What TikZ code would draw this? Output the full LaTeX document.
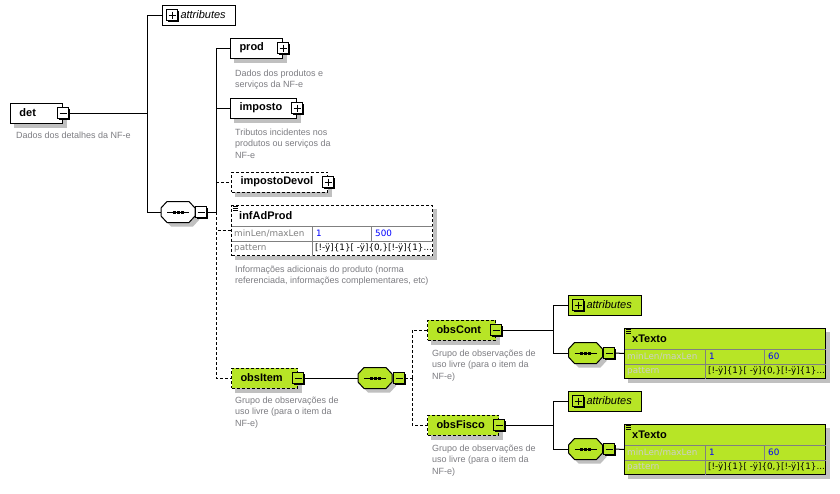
\documentclass[tikz,border=0pt]{standalone}
\usepackage{fontspec}
\setmainfont{Liberation Sans}
\newfontfamily\tblfont{DejaVu Sans}
\usetikzlibrary{calc}
\pgfdeclarelayer{bg}
\pgfsetlayers{bg,main}
\definecolor{xgreen}{RGB}{183,229,38}
\definecolor{shad}{RGB}{192,192,192}
\definecolor{desc}{RGB}{125,125,130}
\definecolor{lblw}{RGB}{128,128,128}
\definecolor{lblg}{RGB}{205,205,205}
\definecolor{gridc}{RGB}{128,128,128}
\definecolor{valblue}{RGB}{0,0,255}
\tikzset{
  namefont/.style={font=\fontsize{11}{13}\selectfont\bfseries},
  elem/.style={draw, line width=1pt, minimum height=20, inner ysep=0, inner xsep=9, align=left, anchor=west, namefont},
  optl/.style={dash pattern=on 3pt off 2pt},
  conn/.style={line width=1pt},
  descr/.style={anchor=north west, inner sep=0, align=left, text=desc, font=\fontsize{9}{11.5}\selectfont},
  btn/.style={draw, fill=#1, minimum size=11, inner sep=0, line width=1pt},
  attrbox/.style={draw, line width=1pt, minimum height=20, inner ysep=0, inner xsep=4, text width=65, align=left, anchor=west, font=\fontsize{11}{12}\selectfont\itshape},
  tbl/.style={font=\tblfont\fontsize{8.8}{11}\selectfont, anchor=west, inner sep=0},
  gridl/.style={line width=1pt, draw=gridc},
}
\newcommand{\shadowof}[1]{%
  \begin{pgfonlayer}{bg}
    \fill[shad] ($(#1.south west)+(4,4)$) rectangle ($(#1.north east)+(4,4)$);
  \end{pgfonlayer}}
\newcommand{\minusbtn}[3]{%
  \coordinate (#1c) at (#2);
  \fill ($(#1c)+(-4.5,-4.5)$) rectangle ($(#1c)+(6.5,6.5)$);
  \node[btn=#3] (#1) at (#1c) {};
  \draw[line width=1pt] ($(#1.center)+(-3.5,0)$) -- ($(#1.center)+(3.5,0)$);}
\newcommand{\plusbtn}[3]{%
  \minusbtn{#1}{#2}{#3}
  \draw[line width=1pt] ($(#1.center)+(0,-3.5)$) -- ($(#1.center)+(0,3.5)$);}
\newcommand{\octa}[4]{%
  \path[#4] ($(#1.center)+(-17+#2,-4+#3)$) -- ($(#1.center)+(-11+#2,-10.5+#3)$) -- ($(#1.center)+(11+#2,-10.5+#3)$) -- ($(#1.center)+(17+#2,-4+#3)$) -- ($(#1.center)+(17+#2,4+#3)$) -- ($(#1.center)+(11+#2,10.5+#3)$) -- ($(#1.center)+(-11+#2,10.5+#3)$) -- ($(#1.center)+(-17+#2,4+#3)$) -- cycle;}
\newcommand{\seqicon}[3]{%
  \node[minimum width=34, minimum height=21, inner sep=0] (#1) at (#2) {};
  \octa{#1}{4}{4}{fill=shad}
  \octa{#1}{0}{0}{draw, fill=#3, line width=1pt}
  \draw[line width=1pt] ($(#1.center)+(-11,0)$) -- ($(#1.center)+(11,0)$);
  \foreach \d in {-4,0,4} \fill ($(#1.center)+(\d-1.5,-1.5)$) rectangle ($(#1.center)+(\d+1.5,1.5)$);
}
\newcommand{\facettable}[8]{%
  \node[draw, line width=1pt, #5, fill=#4, minimum width=201, minimum height=50, inner sep=0, anchor=north west] (#1) at (#2,#3) {};
  \shadowof{#1}
  \draw[gridl] ($(#1.north west)+(0.5,21)$) -- ($(#1.north east)+(-0.5,21)$);
  \draw[gridl] ($(#1.north west)+(0.5,36)$) -- ($(#1.north east)+(-0.5,36)$);
  \draw[gridl] ($(#1.north west)+(81,21)$) -- ($(#1.south west)+(81,-0.5)$);
  \draw[gridl] ($(#1.north west)+(140,21)$) -- ($(#1.north west)+(140,36)$);
  \draw[line width=0.8pt] ($(#1.north west)+(2,1.5)$) -- ($(#1.north west)+(7,1.5)$);
  \draw[line width=0.8pt] ($(#1.north west)+(2,3.5)$) -- ($(#1.north west)+(7,3.5)$);
  \draw[line width=0.8pt] ($(#1.north west)+(2,5.5)$) -- ($(#1.north west)+(7,5.5)$);
  \node[namefont, anchor=west, inner sep=0] (#1-t) at ($(#1.north west)+(8,11)$) {#7};
  \node[tbl, text=#6] (#1-l1) at ($(#1.north west)+(3,28.5)$) {minLen/maxLen};
  \node[tbl, text=valblue] (#1-v1) at ($(#1.north west)+(85,28.5)$) {1};
  \node[tbl, text=valblue] (#1-v2) at ($(#1.north west)+(144,28.5)$) {#8};
  \node[tbl, text=#6] (#1-l2) at ($(#1.north west)+(3,43)$) {pattern};
  \node[tbl, text=black] (#1-v3) at ($(#1.north west)+(84,43)$) {[!-ÿ]\{1\}[ -ÿ]\{0,\}[!-ÿ]\{1\}...};
}
\begin{document}
\begin{tikzpicture}[x=1pt,y=-1pt]
\begin{pgfonlayer}{bg}
\path[use as bounding box, fill=white] (0,0) rectangle (840,493);
\end{pgfonlayer}

% det
\node[elem, fill=white, text width=34] (det) at (10,113) {det};
\shadowof{det}
\minusbtn{detb}{det.east}{white}
\node[descr] (detd) at (16,131.5) {Dados dos detalhes da NF-e};
\coordinate (j1) at (147,113);
\draw[conn] (detb.east) -- (j1);

% attributes
\node[attrbox, fill=white] (attr1) at (162,15) {\hspace*{14pt}attributes};
\plusbtn{attr1b}{$(attr1.west)+(10,0)$}{white}
\draw[conn] (j1) |- (attr1.west);

% sequence 1
\seqicon{seq1}{178,212}{white}
\minusbtn{seq1b}{201,212}{white}
\draw[conn] (j1) |- (seq1.west);
\coordinate (j2) at (216,212);
\draw[conn] (seq1b.east) -- (j2);

% prod
\node[elem, fill=white, text width=34] (prod) at (230,48) {prod};
\shadowof{prod}
\plusbtn{prodb}{prod.east}{white}
\node[descr] (prodd) at (235,69.5) {Dados dos produtos e\\serviços da NF-e};

% imposto
\node[elem, fill=white, text width=48] (imp) at (230,108) {imposto};
\shadowof{imp}
\plusbtn{impb}{imp.east}{white}
\node[descr] (impd) at (235,128.5) {Tributos incidentes nos\\produtos ou serviços da\\NF-e};

% impostoDevol
\node[elem, fill=white, optl, text width=78] (dev) at (231,182) {impostoDevol};
\shadowof{dev}
\plusbtn{devb}{dev.east}{white}

% infAdProd
\facettable{inf}{231}{205}{white}{optl}{lblw}{infAdProd}{500}
\node[descr] (infd) at (235,265.5) {Informações adicionais do produto (norma\\referenciada, informações complementares, etc)};

% obsItem
\node[elem, fill=xgreen, optl, text width=48] (oi) at (231,378) {obsItem};
\shadowof{oi}
\minusbtn{oib}{oi.east}{xgreen}
\node[descr] (oid) at (235,396.5) {Grupo de observações de\\uso livre (para o item da\\NF-e)};

\draw[conn] (j2) |- (prod.west);
\draw[conn] (j2) |- (imp.west);
\draw[conn, optl] (j2) |- (dev.west);
\draw[conn, optl] (j2) |- (inf.west);
\draw[conn, optl] (j2) |- (oi.west);

% sequence 2
\seqicon{seq2}{375,378}{xgreen}
\minusbtn{seq2b}{399,378}{xgreen}
\draw[conn] (oib.east) -- (seq2.west);
\coordinate (j3) at (412,378);
\draw[conn, optl] (seq2b.east) -- (j3);

% obsCont
\node[elem, fill=xgreen, optl, text width=50] (oc) at (427,330) {obsCont};
\shadowof{oc}
\minusbtn{ocb}{oc.east}{xgreen}
\node[descr] (ocd) at (432,349.5) {Grupo de observações de\\uso livre (para o item da\\NF-e)};

% obsFisco
\node[elem, fill=xgreen, optl, text width=53] (of) at (427,425) {obsFisco};
\shadowof{of}
\minusbtn{ofb}{of.east}{xgreen}
\node[descr] (ofd) at (432,444.5) {Grupo de observações de\\uso livre (para o item da\\NF-e)};

\draw[conn, optl] (j3) |- (oc.west);
\draw[conn, optl] (j3) |- (of.west);

% obsCont children
\coordinate (j4) at (553,330);
\draw[conn] (ocb.east) -- (j4);
\node[attrbox, fill=xgreen] (attr2) at (568,305) {\hspace*{14pt}attributes};
\plusbtn{attr2b}{$(attr2.west)+(10,0)$}{xgreen}
\seqicon{seq3}{585.5,353}{xgreen}
\minusbtn{seq3b}{609,353}{xgreen}
\draw[conn] (j4) |- (attr2.west);
\draw[conn] (j4) |- (seq3.west);
\facettable{xt1}{624}{328}{xgreen}{solid}{lblg}{xTexto}{60}
\draw[conn] (seq3b.east) -- (xt1.west);

% obsFisco children
\coordinate (j5) at (553,425);
\draw[conn] (ofb.east) -- (j5);
\node[attrbox, fill=xgreen] (attr3) at (568,401) {\hspace*{14pt}attributes};
\plusbtn{attr3b}{$(attr3.west)+(10,0)$}{xgreen}
\seqicon{seq4}{585.5,449}{xgreen}
\minusbtn{seq4b}{609,449}{xgreen}
\draw[conn] (j5) |- (attr3.west);
\draw[conn] (j5) |- (seq4.west);
\facettable{xt2}{624}{424}{xgreen}{solid}{lblg}{xTexto}{60}
\draw[conn] (seq4b.east) -- (xt2.west);
\end{tikzpicture}
\end{document}
